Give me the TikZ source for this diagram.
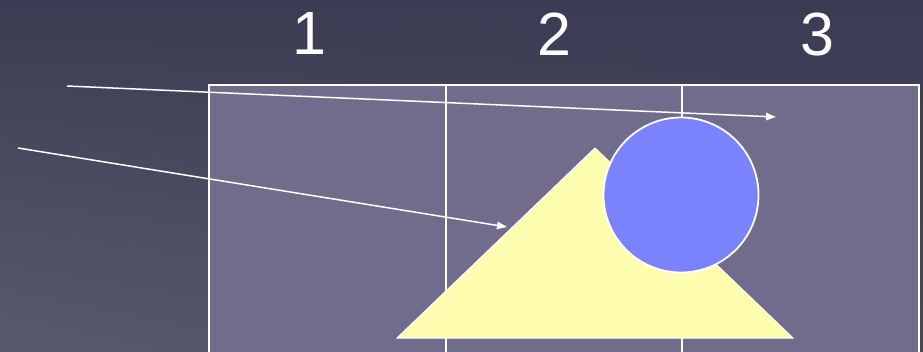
\documentclass[tikz,border=0pt]{standalone}
\usepackage{fontspec}
\setmainfont{Liberation Sans}
\usetikzlibrary{positioning, arrows.meta, shadings}

\definecolor{bgdark}{HTML}{3B3B53}
\definecolor{bgmid}{HTML}{474760}
\definecolor{bglight}{HTML}{5A5A6E}
\definecolor{panel}{HTML}{716B8C}
\definecolor{tri}{HTML}{FFFDB0}
\definecolor{disc}{HTML}{7B82FE}

\begin{document}
\begin{tikzpicture}[x=1pt, y=-1pt, >={Triangle[length=10pt, width=7.5pt]},
  frame/.style={draw=white, line width=1.5pt},
  pointer/.style={->, draw=white, line width=1.5pt},
  digit/.style={text=white, font=\fontsize{61}{61}\selectfont, inner sep=0pt}]
  \useasboundingbox (0,0) rectangle (923,351);
  \clip (0,0) rectangle (923,351);
  % background
  \shade[upper left=bgdark, upper right=bgdark, lower left=bglight, lower right=bgmid]
    (0,0) rectangle (923,351);
  % panel with three columns
  \filldraw[fill=panel, frame] (209,85) rectangle (919,360);
  \coordinate (c1) at (446,85);
  \coordinate (c2) at (682,85);
  \draw[frame] (c1) -- (446,360);
  \draw[frame] (c2) -- (682,360);
  \node[digit] (one) at (309,34) {1};
  \node[digit] (two) at (554,34) {2};
  \node[digit] (three) at (817,34) {3};
  % shapes
  \coordinate (tl) at (397,338);
  \coordinate (apex) at (595,148);
  \coordinate (tr) at (793,338);
  \filldraw[fill=tri, draw=white, line width=1pt] (tl) -- (apex) -- (tr) -- cycle;
  \node[circle, fill=disc, draw=white, line width=1.8pt, minimum size=155pt, inner sep=0pt] (ball) at (681,195) {};
  % arrows
  \coordinate (s1) at (67,86);
  \coordinate (t1) at (776,117);
  \coordinate (s2) at (18,148);
  \coordinate (t2) at (507,227);
  \draw[pointer] (s1) -- (t1);
  \draw[pointer] (s2) -- (t2);
\end{tikzpicture}
\end{document}
